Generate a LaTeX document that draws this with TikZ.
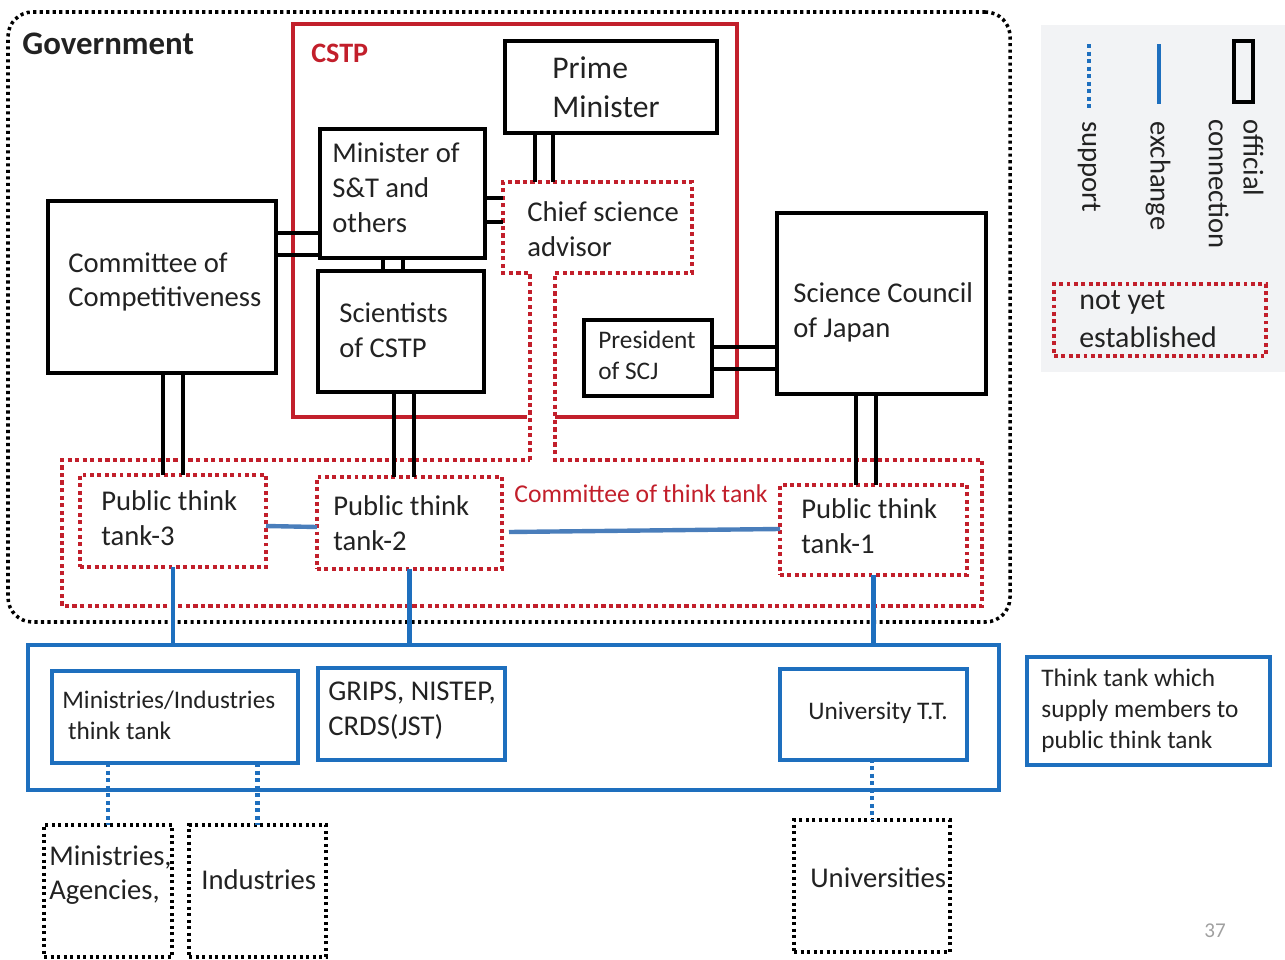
\documentclass[tikz,border=0pt]{standalone}
\usepackage{fontspec}
\setmainfont{Carlito}
\usetikzlibrary{fit}
\definecolor{cred}{HTML}{C21F2B}
\definecolor{cblue}{HTML}{1E6FBE}
\definecolor{cexl}{HTML}{4A7EBB}
\definecolor{ctext}{HTML}{222222}
\definecolor{clegbg}{HTML}{F2F3F5}
\definecolor{cgray}{HTML}{A0A0A0}
\newcommand{\fB}{\fontsize{18}{22}\selectfont}
\newcommand{\fN}{\fontsize{16.3}{19.8}\selectfont}
\newcommand{\fS}{\fontsize{14.4}{17.6}\selectfont}
\begin{document}
\begin{tikzpicture}[x=0.02cm,y=-0.02cm,
  area/.style={inner sep=0pt, outer sep=0pt},
  obox/.style={area, draw=black, line width=2.1pt},
  bbox/.style={area, draw=cblue, line width=2.1pt},
  rdbox/.style={area, draw=cred, line width=2.2pt, dash pattern=on 2.2pt off 2pt},
  rdline/.style={draw=cred, line width=2.6pt, dash pattern=on 2.4pt off 1.9pt},
  kdbox/.style={area, draw=black, line width=2pt, dash pattern=on 1.8pt off 1.9pt},
  ghost/.style={area},
  txt/.style={anchor=west, align=left, inner sep=0pt, text=ctext},
  conn/.style={draw=black, line width=2.1pt},
  exh/.style={draw=cexl, line width=2.5pt},
  exv/.style={draw=cblue, line width=2.5pt},
  supp/.style={draw=cblue, line width=2.6pt, dash pattern=on 2.3pt off 2pt}]
\useasboundingbox (0,0) rectangle (1285,960);

% legend background
\node[area, fill=clegbg, fit={(1041,25) (1285,372)}] (leg) {};

% Government
\node[kdbox, rounded corners=14pt, fit={(8,12) (1010,622)}] (gov) {};
\node[txt, font=\fontsize{18.7}{22}\selectfont\bfseries] (tgov) at (22,44) {Government};

% CSTP red outline
\draw[draw=cred, line width=2.5pt] (527,417) -- (293,417) -- (293,24) -- (737,24) -- (737,417) -- (555,417);
\node[txt, font=\fontsize{16}{18}\selectfont\bfseries, text=cred] (tcstp) at (311,53) {CSTP};

% boxes
\node[obox, fit={(505,41) (717,133)}] (pm) {};
\node[txt, font=\fB] (tpm) at (552,87) {Prime\\Minister};

\node[obox, fit={(320,129) (485,258)}] (min) {};
\node[txt, font=\fN] (tmin) at (332,188) {Minister of\\S\&T and\\others};

\node[obox, fit={(318,271) (484,392)}] (sci) {};
\node[txt, font=\fN] (tsci) at (339,330) {Scientists\\of CSTP};

\node[obox, fit={(48,201) (276,373)}] (coc) {};
\node[txt, font=\fN] (tcoc) at (68,282) {Committee of\\Competitiveness};

\node[obox, fit={(584,320) (712,396)}] (pres) {};
\node[txt, font=\fS] (tpres) at (598,355) {President\\of SCJ};

\node[obox, fit={(777,213) (986,394)}] (scj) {};
\node[txt, font=\fN] (tscj) at (793,312) {Science Council\\of Japan};

% not-yet-established regions
\node[ghost, fit={(503,182) (692,273)}] (csa) {};
\node[ghost, fit={(62,460) (982,606)}] (ctt) {};
\draw[rdline] (530,460) -- (530,273) -- (csa.south west) -- (csa.north west) -- (csa.north east)
  -- (csa.south east) -- (555,273) -- (555,460) -- (ctt.north east) -- (ctt.south east)
  -- (ctt.south west) -- (ctt.north west) -- cycle;
\node[txt, font=\fN] (tcsa) at (527,229) {Chief science\\advisor};
\node[txt, font=\fontsize{14.6}{17}\selectfont, text=cred] (tctt) at (514,494) {Committee of think tank};

\node[rdbox, fit={(80,475) (266,567)}] (p3) {};
\node[txt, font=\fN] (tp3) at (101,518) {Public think\\tank-3};
\node[rdbox, fit={(317,477) (502,569)}] (p2) {};
\node[txt, font=\fN] (tp2) at (333,523) {Public think\\tank-2};
\node[rdbox, fit={(780,485) (967,575)}] (p1) {};
\node[txt, font=\fN] (tp1) at (801,526) {Public think\\tank-1};

% official connections
\draw[conn] (535,0 |- pm.south) -- (535,0 |- csa.north);
\draw[conn] (553,0 |- pm.south) -- (553,0 |- csa.north);
\draw[conn] (min.east |- 0,198) -- (csa.west |- 0,198);
\draw[conn] (min.east |- 0,222) -- (csa.west |- 0,222);
\draw[conn] (383,0 |- min.south) -- (383,0 |- sci.north);
\draw[conn] (403,0 |- min.south) -- (403,0 |- sci.north);
\draw[conn] (coc.east |- 0,233) -- (min.west |- 0,233);
\draw[conn] (coc.east |- 0,255) -- (min.west |- 0,255);
\draw[conn] (pres.east |- 0,347) -- (scj.west |- 0,347);
\draw[conn] (pres.east |- 0,369) -- (scj.west |- 0,369);
\draw[conn] (163,0 |- coc.south) -- (163,0 |- p3.north);
\draw[conn] (183,0 |- coc.south) -- (183,0 |- p3.north);
\draw[conn] (394,0 |- sci.south) -- (394,0 |- p2.north);
\draw[conn] (414,0 |- sci.south) -- (414,0 |- p2.north);
\draw[conn] (856,0 |- scj.south) -- (856,0 |- p1.north);
\draw[conn] (876,0 |- scj.south) -- (876,0 |- p1.north);

% exchange between public think tanks
\draw[exh] (p3.east |- 0,526) -- (p2.west |- 0,527);
\draw[exh] (509,532) -- (p1.west |- 0,529);

% lower blue area
\node[bbox, fit={(28,645) (999,790)}] (tt) {};
\node[bbox, fit={(52,671) (298,763)}] (mitt) {};
\node[txt, font=\fS] (tmitt) at (62,715) {Ministries/Industries\\\ think tank};
\node[bbox, fit={(318,668) (505,760)}] (grips) {};
\node[txt, font=\fN] (tgrips) at (328,711) {GRIPS, NISTEP,\\CRDS(JST)};
\node[bbox, fit={(780,669) (967,760)}] (utt) {};
\node[txt, font=\fS] (tutt) at (808,713) {University T.T.};
\node[bbox, fit={(1027,657) (1270,765)}] (note) {};
\node[txt, font=\fS] (tnote) at (1041,711) {Think tank which\\supply members to\\public think tank};

\draw[exv] (p3.south) -- (p3 |- tt.north);
\draw[exv] (p2.south) -- (p2 |- tt.north);
\draw[exv] (p1.south) -- (p1 |- tt.north);

% outside organisations
\node[kdbox, fit={(44,825) (172,957)}] (mab) {};
\node[txt, font=\fN] (tmab) at (49,875) {Ministries,\\Agencies,};
\node[kdbox, fit={(189,825) (326,957)}] (ind) {};
\node[txt, font=\fN] (tind) at (201,880) {Industries};
\node[kdbox, fit={(794,820) (950,952)}] (uni) {};
\node[txt, font=\fN] (tuni) at (810,878) {Universities};

\draw[supp] (mab.north |- mitt.south) -- (mab.north);
\draw[supp] (ind.north |- mitt.south) -- (ind.north);
\draw[supp] (utt.south) -- (utt.south -| uni.north) -- (uni.north);

\node[font=\fontsize{12}{14}\selectfont, text=cgray, inner sep=0pt] (pg) at (1215,931) {37};

% legend
\node[area, draw=black, line width=2.1pt, fit={(1234,41) (1253,102)}] (lgoff) {};
\coordinate (lgex1) at (1159,44);
\coordinate (lgex2) at (1159,104);
\draw[exv] (lgex1) -- (lgex2);
\coordinate (lgsu1) at (1089,44);
\coordinate (lgsu2) at (1089,110);
\draw[supp] (lgsu1) -- (lgsu2);
\node[txt, font=\fN, rotate=-90] (tlgoff) at (1236,119) {official\\connection};
\node[txt, font=\fN, rotate=-90] (tlgex) at (1158,121) {exchange};
\node[txt, font=\fN, rotate=-90] (tlgsu) at (1089,121) {support};
\node[rdbox, fit={(1054,284) (1266,356)}] (lgne) {};
\node[txt, font=\fontsize{17}{21.5}\selectfont] (tlgne) at (1079,319) {not yet\\established};
\end{tikzpicture}
\end{document}
